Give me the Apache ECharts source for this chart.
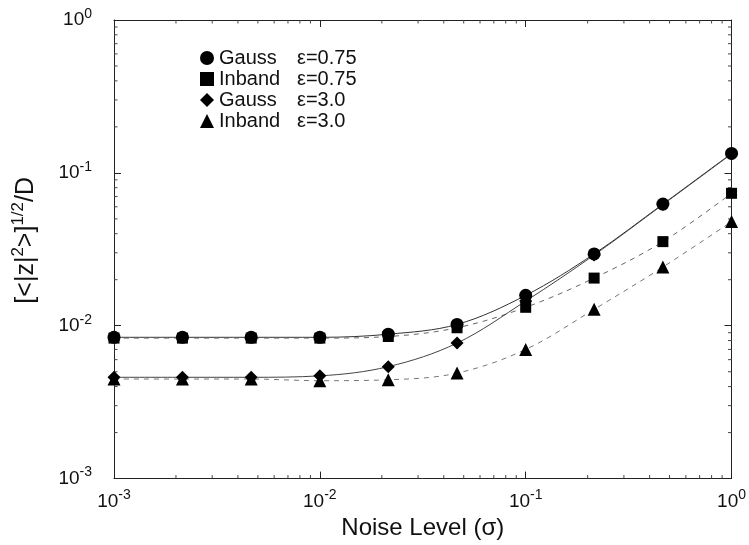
<!DOCTYPE html>
<html>
<head>
<meta charset="utf-8">
<script src="https://cdn.jsdelivr.net/npm/echarts@6/dist/echarts.min.js"></script>
<style>
  html, body { margin: 0; padding: 0; background: #fff; }
  #chart { width: 749px; height: 545px; }
</style>
</head>
<body>
<div id="chart"></div>
<script>
  // noise levels (sigma) and the four curves
  var noise = [0.001, 0.00215, 0.00464, 0.01, 0.0215, 0.0464, 0.1, 0.215, 0.464, 1];
  var gauss075 = [0.0084, 0.0084, 0.0084, 0.0084, 0.0088, 0.0102, 0.0158, 0.0295, 0.0625, 0.134];
  var inband075 = [0.0083, 0.0083, 0.0083, 0.0083, 0.0085, 0.0097, 0.0132, 0.0205, 0.0355, 0.0735];
  var gauss30 = [0.0046, 0.0046, 0.0046, 0.0047, 0.0054, 0.0077, 0.0145, 0.029, 0.062, 0.133];
  var inband30 = [0.00448, 0.00448, 0.00448, 0.00437, 0.00443, 0.0049, 0.0070, 0.0128, 0.0242, 0.048];
  var seriesNames = ['Gauss ε=0.75', 'Inband ε=0.75', 'Gauss ε=3.0', 'Inband ε=3.0'];

  // decades and the 2..9 minor ticks inside each one
  var decades = [0.001, 0.01, 0.1];
  var minorSteps = [2, 3, 4, 5, 6, 7, 8, 9];

  var font = '"Liberation Sans", Arial, sans-serif';

  function pairs(ys) {
    return noise.map(function (x, i) { return [x, ys[i]]; });
  }

  var minorValues = [];
  decades.forEach(function (d) {
    minorSteps.forEach(function (m) { minorValues.push(d * m); });
  });

  function powLabel(v) {
    var e = Math.round(Math.log(v) / Math.LN10);
    return '{b|10}{s|' + e + '}';
  }

  var labelRich = {
    b: { fontSize: 19, fontFamily: font, color: '#111', lineHeight: 26 },
    s: { fontSize: 14, fontFamily: font, color: '#111', lineHeight: 14, verticalAlign: 'top' }
  };

  function axisBase(extra) {
    var base = {
      type: 'log',
      logBase: 10,
      min: 0.001,
      max: 1,
      axisLine: { show: true, lineStyle: { color: '#222', width: 1 } },
      axisTick: { show: true, inside: true, length: 7, lineStyle: { color: '#222' } },
      minorTick: { show: false },
      splitLine: { show: false },
      minorSplitLine: { show: false }
    };
    for (var k in extra) base[k] = extra[k];
    return base;
  }

  function line(name, ys, symbol, size, style) {
    return {
      name: name,
      type: 'line',
      xAxisIndex: 0,
      yAxisIndex: 0,
      data: pairs(ys),
      symbol: symbol,
      symbolSize: size,
      smooth: 0.35,
      itemStyle: { color: '#000' },
      lineStyle: style,
      z: 3
    };
  }

  // small inward ticks on all four sides at the minor values
  function minorTicks(dim) {
    return {
      type: 'custom',
      xAxisIndex: 0,
      yAxisIndex: 0,
      silent: true,
      clip: false,
      z: 1,
      data: minorValues,
      renderItem: function (params, api) {
        var v = api.value(0);
        var a, b, len = 3.5;
        var shapes = [];
        if (dim === 'x') {
          a = api.coord([v, 0.001]);
          b = api.coord([v, 1]);
          shapes.push({ x1: a[0], y1: a[1], x2: a[0], y2: a[1] - len });
          shapes.push({ x1: b[0], y1: b[1], x2: b[0], y2: b[1] + len });
        } else {
          a = api.coord([0.001, v]);
          b = api.coord([1, v]);
          shapes.push({ x1: a[0], y1: a[1], x2: a[0] + len, y2: a[1] });
          shapes.push({ x1: b[0], y1: b[1], x2: b[0] - len, y2: b[1] });
        }
        return {
          type: 'group',
          children: shapes.map(function (s) {
            return { type: 'line', shape: s, style: { stroke: '#444', lineWidth: 1 } };
          })
        };
      }
    };
  }

  var chart = echarts.init(document.getElementById('chart'));
  chart.setOption({
    animation: false,
    backgroundColor: '#fff',
    grid: { left: 114, right: 14, top: 20, bottom: 64 },
    legend: {
      orient: 'vertical',
      left: 195,
      top: 43,
      itemWidth: 14,
      itemHeight: 14,
      itemGap: 1,
      data: [
        { name: seriesNames[0], icon: 'circle' },
        { name: seriesNames[1], icon: 'rect' },
        { name: seriesNames[2], icon: 'diamond' },
        { name: seriesNames[3], icon: 'triangle' }
      ],
      itemStyle: { color: '#000' },
      formatter: function (name) {
        var p = name.split(' ');
        return '{a|' + p[0] + '}{b|' + p[1] + '}';
      },
      textStyle: {
        rich: {
          a: { fontSize: 20, fontFamily: font, color: '#111', width: 78, lineHeight: 20 },
          b: { fontSize: 20, fontFamily: font, color: '#111', lineHeight: 20 }
        }
      }
    },
    xAxis: [
      axisBase({
        position: 'bottom',
        name: 'Noise Level (σ)',
        nameLocation: 'middle',
        nameGap: 34,
        nameTextStyle: { fontSize: 24, fontFamily: font, color: '#111' },
        axisLabel: { margin: 10, formatter: powLabel, rich: labelRich }
      }),
      axisBase({ position: 'top', axisLabel: { show: false } })
    ],
    yAxis: [
      axisBase({
        position: 'left',
        name: '{b|[<|z|}{s|2}{b|>]}{s|1/2}{b|/D}',
        nameLocation: 'middle',
        nameGap: 72,
        nameTextStyle: {
          padding: [0, 0, 0, 18],
          rich: {
            b: { fontSize: 25, fontFamily: font, color: '#111', lineHeight: 32 },
            s: { fontSize: 17, fontFamily: font, color: '#111', lineHeight: 17, verticalAlign: 'top' }
          }
        },
        axisLabel: { margin: 22, formatter: powLabel, rich: labelRich }
      }),
      axisBase({ position: 'right', axisLabel: { show: false } })
    ],
    series: [
      minorTicks('x'),
      minorTicks('y'),
      line(seriesNames[0], gauss075, 'circle', 13, { color: '#333', width: 1, type: 'solid' }),
      line(seriesNames[1], inband075, 'rect', 11, { color: '#666', width: 1, type: [5, 5] }),
      line(seriesNames[2], gauss30, 'diamond', 13, { color: '#444', width: 1, type: 'solid' }),
      line(seriesNames[3], inband30, 'triangle', 13, { color: '#777', width: 1, type: [5, 5] })
    ]
  });
</script>
</body>
</html>
